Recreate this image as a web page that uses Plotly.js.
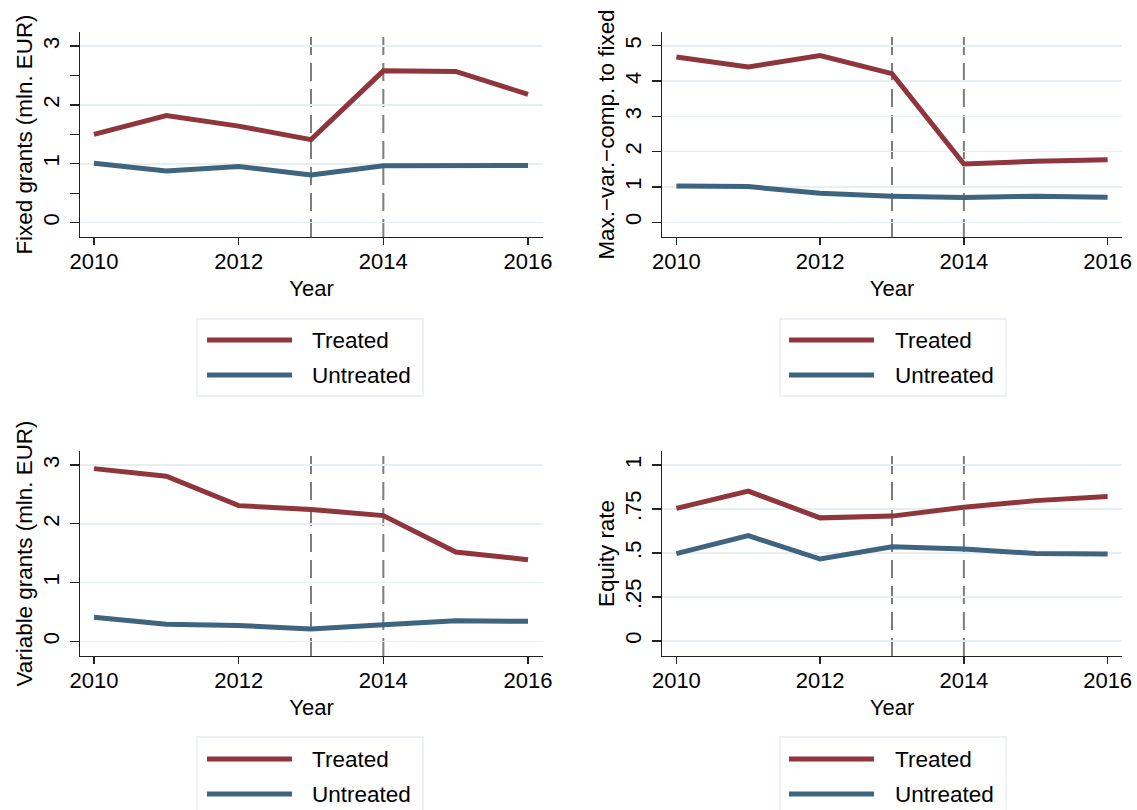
<!DOCTYPE html>
<html>
<head>
<meta charset="utf-8">
<script src="https://cdn.plot.ly/plotly-3.0.1.min.js"></script>
<style>html,body{margin:0;padding:0;background:#fff;}#chart{width:1137px;height:810px;}</style>
</head>
<body>
<div id="chart"></div>
<script>
// ---- data ----
const years = [2010, 2011, 2012, 2013, 2014, 2015, 2016];
const seriesNames = ['Treated', 'Untreated'];
const fixedTreated = [1.50, 1.82, 1.64, 1.41, 2.58, 2.57, 2.18];
const fixedUntreated = [1.01, 0.876, 0.955, 0.81, 0.966, 0.978, 0.97];
const ratioTreated = [4.68, 4.40, 4.72, 4.21, 1.65, 1.73, 1.77];
const ratioUntreated = [1.03, 1.01, 0.82, 0.74, 0.70, 0.74, 0.71];
const variableTreated = [2.94, 2.81, 2.31, 2.245, 2.14, 1.52, 1.39];
const variableUntreated = [0.41, 0.29, 0.27, 0.21, 0.28, 0.35, 0.34];
const equityTreated = [0.754, 0.852, 0.70, 0.71, 0.76, 0.798, 0.822];
const equityUntreated = [0.497, 0.599, 0.466, 0.536, 0.523, 0.497, 0.495];
const eventYears = [2013, 2014];
const xTicks = [2010, 2012, 2014, 2016];
const yTitles = ['Fixed grants (mln. EUR)', 'Max.\u2212var.\u2212comp. to fixed', 'Variable grants (mln. EUR)', 'Equity rate'];
const yTicks1 = [0, 1, 2, 3];
const yTicks2 = [0, 1, 2, 3, 4, 5];
const yTicks3 = [0, 1, 2, 3];
const yTicks4 = [0, 0.25, 0.5, 0.75, 1];
const yTickText4 = ['0', '.25', '.5', '.75', '1'];

// ---- styling ----
const W = 1137, H = 810;
const RED = '#8f353c', BLUE = '#3e6480';
const FONT = 'Liberation Sans, Arial, sans-serif';
const px = v => v / W, py = v => 1 - v / H;

const panels = [
  {t: fixedTreated, u: fixedUntreated, x0: 80, x1: 543, y0: 32, y1: 237, xr: [2009.807, 2016.207], yr: [-0.245, 3.24], tv: yTicks1, tt: yTicks1.map(String), minor: 0.5},
  {t: ratioTreated, u: ratioUntreated, x0: 662, x1: 1122, y0: 32, y1: 237, xr: [2009.80, 2016.20], yr: [-0.417, 5.39], tv: yTicks2, tt: yTicks2.map(String)},
  {t: variableTreated, u: variableUntreated, x0: 80, x1: 543, y0: 451, y1: 656, xr: [2009.807, 2016.207], yr: [-0.25, 3.24], tv: yTicks3, tt: yTicks3.map(String)},
  {t: equityTreated, u: equityUntreated, x0: 662, x1: 1122, y0: 451, y1: 656, xr: [2009.80, 2016.20], yr: [-0.085, 1.08], tv: yTicks4, tt: yTickText4}
];

const traces = [], shapes = [], annotations = [];
const layout = {
  width: W, height: H, margin: {l: 0, r: 0, t: 0, b: 0},
  paper_bgcolor: '#fff', plot_bgcolor: '#fff',
  font: {family: FONT, size: 22, color: '#000'},
  showlegend: false
};

panels.forEach((p, i) => {
  const n = i + 1;
  const xa = 'x' + (n === 1 ? '' : n), ya = 'y' + (n === 1 ? '' : n);
  const xk = 'xaxis' + (n === 1 ? '' : n), yk = 'yaxis' + (n === 1 ? '' : n);
  [p.t, p.u].forEach((vals, k) => {
    traces.push({x: years, y: vals, type: 'scatter', mode: 'lines', name: seriesNames[k],
      xaxis: xa, yaxis: ya, line: {color: k === 0 ? RED : BLUE, width: 5}, hoverinfo: 'x+y+name'});
  });
  layout[xk] = {
    domain: [px(p.x0), px(p.x1)], anchor: ya, range: p.xr, tickvals: xTicks,
    showgrid: false, zeroline: false, showline: true, linecolor: '#222', linewidth: 1.3,
    ticks: 'outside', ticklen: 7, tickwidth: 1.3, tickcolor: '#222', ticklabelstandoff: -3,
    tickfont: {size: 22}, title: {text: 'Year', font: {size: 22}, standoff: 8}, automargin: false
  };
  const yax = {
    domain: [py(p.y1), py(p.y0)], anchor: xa, range: p.yr, tickvals: p.tv, ticktext: p.tt,
    tickangle: -90, showgrid: true, gridcolor: '#e7eff2', gridwidth: 1.5, zeroline: false,
    showline: true, linecolor: '#222', linewidth: 1.3,
    ticks: 'outside', ticklen: 9, tickwidth: 1.3, tickcolor: '#222', ticklabelstandoff: 2,
    tickfont: {size: 22}, title: {text: yTitles[i], font: {size: 22.4}, standoff: 0}, automargin: false
  };
  if (p.minor) yax.minor = {dtick: p.minor, ticks: 'outside', ticklen: 9, tickwidth: 1.3, tickcolor: '#222', showgrid: false};
  layout[yk] = yax;
  eventYears.forEach(ev => {
    shapes.push({type: 'line', xref: xa, yref: ya + ' domain', x0: ev, x1: ev, y0: 0, y1: 0.985,
      line: {color: '#7d7d7d', width: 2, dash: '18px,8px'}, layer: 'below'});
  });
});

// ---- legends (one under each panel) ----
const legends = [
  {bx0: 197, bx1: 423, by0: 319, by1: 396, lx0: 207, lx1: 292, tx: 310, r1: 340, r2: 375},
  {bx0: 780, bx1: 1006, by0: 319, by1: 396, lx0: 789, lx1: 874, tx: 893, r1: 340, r2: 375},
  {bx0: 197, bx1: 423, by0: 737, by1: 814, lx0: 207, lx1: 292, tx: 310, r1: 759, r2: 794},
  {bx0: 780, bx1: 1006, by0: 737, by1: 814, lx0: 789, lx1: 874, tx: 893, r1: 759, r2: 794}
];
legends.forEach(L => {
  shapes.push({type: 'rect', xref: 'paper', yref: 'paper', x0: px(L.bx0), x1: px(L.bx1), y0: py(L.by1), y1: py(L.by0),
    line: {color: '#e3ecef', width: 1.3}, fillcolor: '#fff', layer: 'above'});
  [L.r1, L.r2].forEach((ry, k) => {
    shapes.push({type: 'line', xref: 'paper', yref: 'paper', x0: px(L.lx0), x1: px(L.lx1), y0: py(ry), y1: py(ry),
      line: {color: k === 0 ? RED : BLUE, width: 5}, layer: 'above'});
    annotations.push({xref: 'paper', yref: 'paper', x: px(L.tx), y: py(ry), xanchor: 'left', yanchor: 'middle',
      text: seriesNames[k], showarrow: false, font: {size: 22.5, color: '#000'}});
  });
});

layout.shapes = shapes;
layout.annotations = annotations;
Plotly.newPlot('chart', traces, layout, {staticPlot: true});
</script>
</body>
</html>
